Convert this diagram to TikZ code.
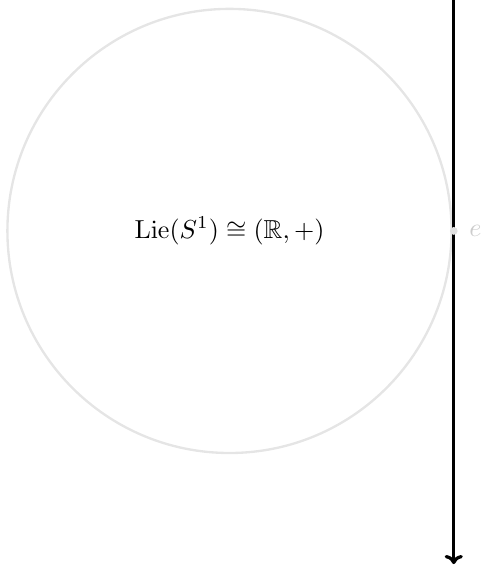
\documentclass[tikz,border=0pt]{standalone}
\usepackage{amssymb}
\usetikzlibrary{arrows.meta}
\begin{document}
\begin{tikzpicture}[
  circ/.style={draw=black!10, line width=0.9pt},
  axis/.style={line width=1.25pt, -{To[length=3.5pt,width=7pt]}},
  pt/.style={circle, fill=black!12, inner sep=0pt, minimum size=3pt},
  faint/.style={text=black!20}
]
\useasboundingbox (-3.1,-4.54) rectangle (3.45,3.12);
\node[circle, minimum size=6cm, circ, inner sep=0pt] (c) at (0,0) {$\mathrm{Lie}(S^1)\cong(\mathbb{R},+)$};
\coordinate (top) at (3.03,3.2);
\coordinate (bot) at (3.03,-4.5);
\draw[axis] (top) -- (bot);
\node[pt] (e) at (3.03,0) {};
\node[faint, anchor=west] (el) at ([xshift=2.5pt]e.center) {$e$};
\end{tikzpicture}
\end{document}
